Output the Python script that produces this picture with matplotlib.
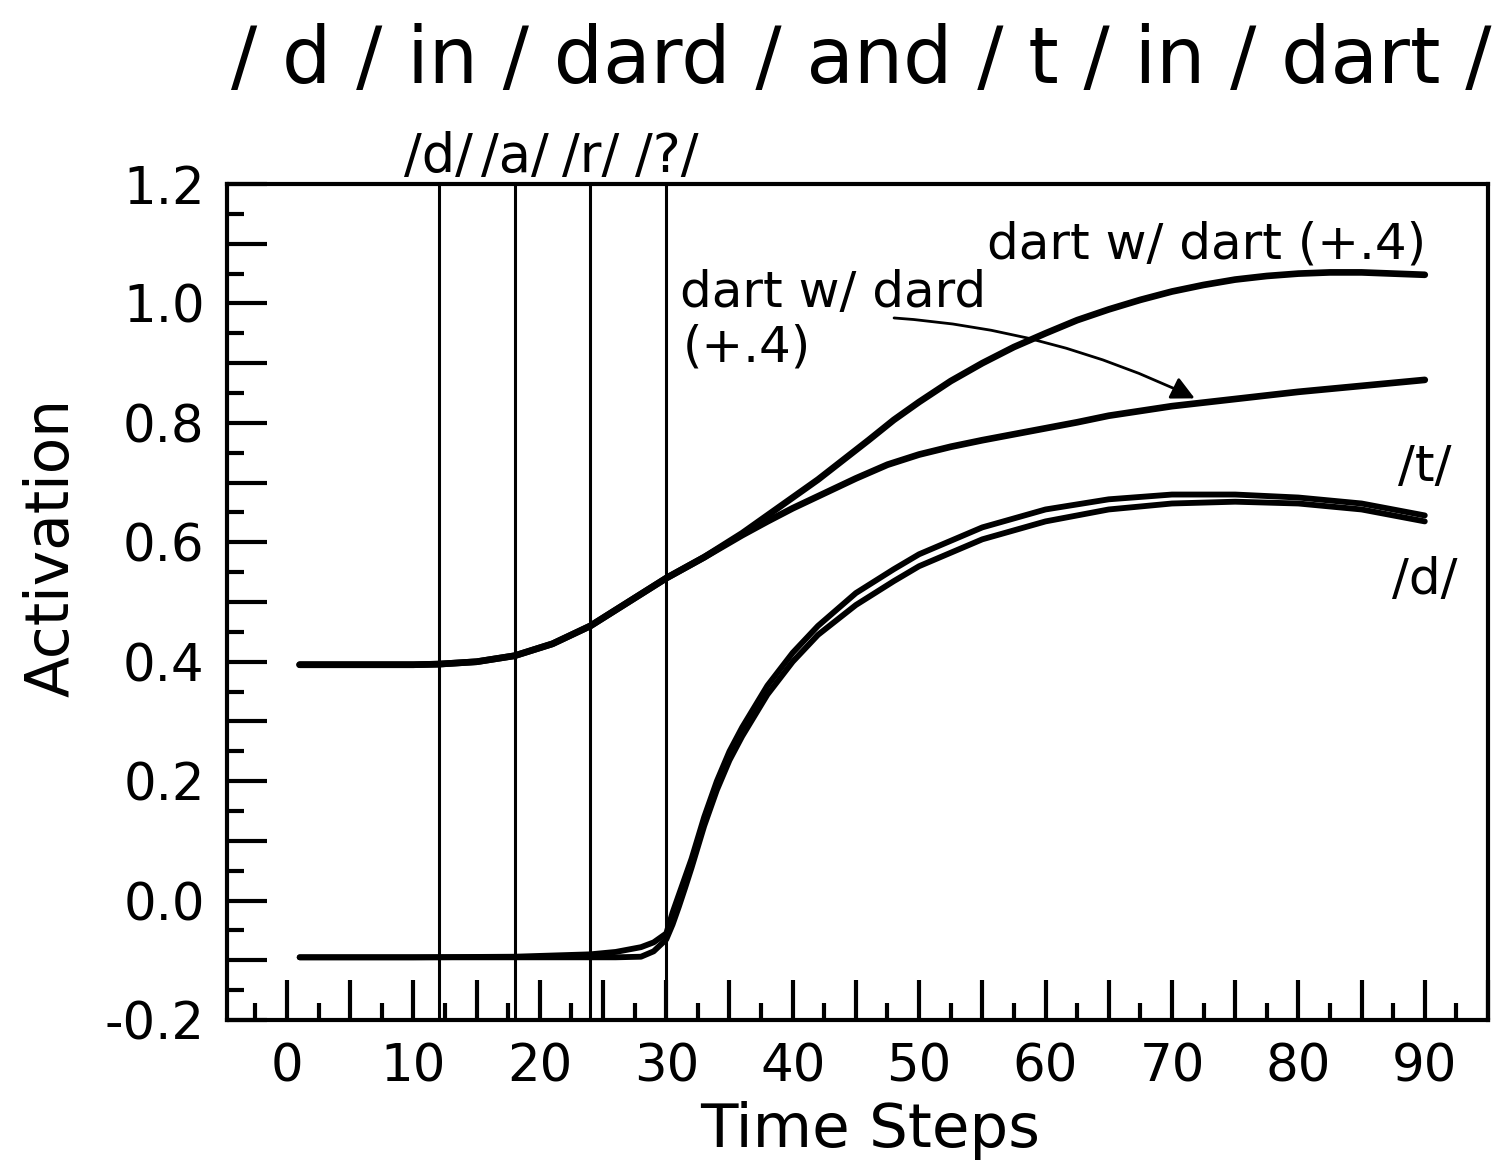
import numpy as np
import matplotlib.pyplot as plt
from matplotlib.ticker import MultipleLocator, FuncFormatter
import matplotlib.transforms as mtransforms

# word-boundary markers (time steps) and phoneme labels
boundaries = [12, 18, 24, 30]
phonemes = ['/d/', '/a/', '/r/', '/?/']

# dart w/ dart (+.4)
x_dart = [1, 5, 10, 12, 15, 18, 21, 24, 27, 30, 33, 36, 38, 40, 42, 44, 46, 48,
          50, 52.5, 55, 57.5, 60, 62.5, 65, 67.5, 70, 72.5, 75, 77.5, 80, 82.5,
          85, 87.5, 90]
y_dart = [0.395, 0.395, 0.395, 0.396, 0.40, 0.41, 0.43, 0.46, 0.50, 0.54, 0.575,
          0.615, 0.645, 0.675, 0.705, 0.738, 0.771, 0.805, 0.835, 0.87, 0.90,
          0.927, 0.95, 0.972, 0.99, 1.006, 1.02, 1.031, 1.04, 1.046, 1.05, 1.052,
          1.052, 1.05, 1.048]

# dart w/ dard (+.4)
x_dard = [1, 5, 10, 12, 15, 18, 21, 24, 27, 30, 33, 36, 38, 40, 42, 45, 47.5,
          50, 52.5, 55, 57.5, 60, 62.5, 65, 67.5, 70, 72.5, 75, 77.5, 80, 82.5,
          85, 87.5, 90]
y_dard = [0.395, 0.395, 0.395, 0.396, 0.40, 0.41, 0.43, 0.46, 0.50, 0.54, 0.575,
          0.612, 0.635, 0.657, 0.677, 0.707, 0.73, 0.747, 0.76, 0.771, 0.781,
          0.791, 0.801, 0.812, 0.82, 0.828, 0.834, 0.84, 0.846, 0.852, 0.857,
          0.862, 0.867, 0.872]

# /t/ unit
x_t = [1, 10, 18, 24, 26, 28, 29, 30, 30.5, 31, 31.5, 32, 32.5, 33, 34, 35, 36,
       37, 38, 40, 42, 45, 48, 50, 55, 60, 65, 70, 75, 80, 85, 90]
y_t = [-0.095, -0.095, -0.094, -0.09, -0.086, -0.078, -0.07, -0.055, -0.02,
       0.01, 0.04, 0.07, 0.105, 0.14, 0.20, 0.25, 0.29, 0.325, 0.36, 0.415, 0.46,
       0.515, 0.555, 0.58, 0.625, 0.655, 0.672, 0.68, 0.68, 0.675, 0.665, 0.645]

# /d/ unit
x_d = [1, 10, 18, 24, 26, 28, 29, 30, 30.5, 31, 31.5, 32, 32.5, 33, 34, 35, 36,
       37, 38, 40, 42, 45, 48, 50, 55, 60, 65, 70, 75, 80, 85, 90]
y_d = [-0.095, -0.095, -0.095, -0.095, -0.095, -0.094, -0.085, -0.065, -0.04,
       -0.01, 0.022, 0.055, 0.09, 0.125, 0.185, 0.235, 0.275, 0.31, 0.345, 0.40,
       0.445, 0.495, 0.535, 0.56, 0.605, 0.635, 0.655, 0.665, 0.668, 0.665,
       0.655, 0.635]

plt.rcParams['font.family'] = ['DejaVu Sans']

fig = plt.figure(figsize=(15, 11.64), dpi=100)
ax = fig.add_axes([0.1513, 0.1237, 0.8407, 0.7182])

for xb in boundaries:
    ax.axvline(xb, color='black', lw=2.2)

lw = 4.8
ax.plot(x_dart, y_dart, color='black', lw=lw, solid_capstyle='round')
ax.plot(x_dard, y_dard, color='black', lw=lw, solid_capstyle='round')
ax.plot(x_t, y_t, color='black', lw=lw - 0.6, solid_capstyle='round')
ax.plot(x_d, y_d, color='black', lw=lw - 0.6, solid_capstyle='round')

ax.set_xlim(-4.75, 95.0)
ax.set_ylim(-0.2, 1.2)

ax.xaxis.set_major_locator(MultipleLocator(5))
ax.xaxis.set_minor_locator(MultipleLocator(2.5))
ax.yaxis.set_major_locator(MultipleLocator(0.1))
ax.yaxis.set_minor_locator(MultipleLocator(0.05))
ax.xaxis.set_major_formatter(FuncFormatter(
    lambda v, p: f"{v:.0f}" if int(round(v)) % 10 == 0 else ""))


def yfmt(v, p):
    k = int(round(v * 10))
    if k % 2:
        return ""
    if k == 0:
        return "0.0"
    return f"{v:.1f}"


ax.yaxis.set_major_formatter(FuncFormatter(yfmt))

ax.tick_params(which='both', direction='in', top=False, right=False, width=3,
               color='black')
ax.tick_params(which='major', length=29)
ax.tick_params(which='minor', length=12)
ax.tick_params(axis='x', which='major', labelsize=37, pad=16)
ax.tick_params(axis='y', which='major', labelsize=37, pad=16)

for s in ax.spines.values():
    s.set_linewidth(3)

ax.text(0.51, -0.1316, 'Time Steps', transform=ax.transAxes, ha='center',
        va='center', fontsize=44)
ax.text(-0.139, 0.565, 'Activation', transform=ax.transAxes, rotation=90,
        ha='center', va='center', fontsize=43)

fig.text(0.574, 0.9287, '/ d / in / dard / and / t / in / dart /', ha='center',
         va='baseline', fontsize=56)

trans = mtransforms.blended_transform_factory(ax.transData, ax.transAxes)
for xb, ph in zip(boundaries, phonemes):
    ax.text(xb, 1.0144, ph, transform=trans, ha='center', va='baseline',
            fontsize=38, clip_on=False)

ax.text(72.7, 1.098, 'dart w/ dart (+.4)', ha='center', va='center', fontsize=36)
ax.text(31.1, 1.018, 'dart w/ dard', ha='left', va='center', fontsize=36)
ax.text(31.3, 0.926, '(+.4)', ha='left', va='center', fontsize=36)
ax.text(90.0, 0.726, '/t/', ha='center', va='center', fontsize=36)
ax.text(90.0, 0.537, '/d/', ha='center', va='center', fontsize=36)

ax.annotate('', xy=(72.0, 0.839), xytext=(47.8, 0.976),
            arrowprops=dict(arrowstyle='-|>', color='black', lw=2,
                            mutation_scale=35,
                            connectionstyle='arc3,rad=-0.1'))

fig.savefig('out.png', dpi=100)
